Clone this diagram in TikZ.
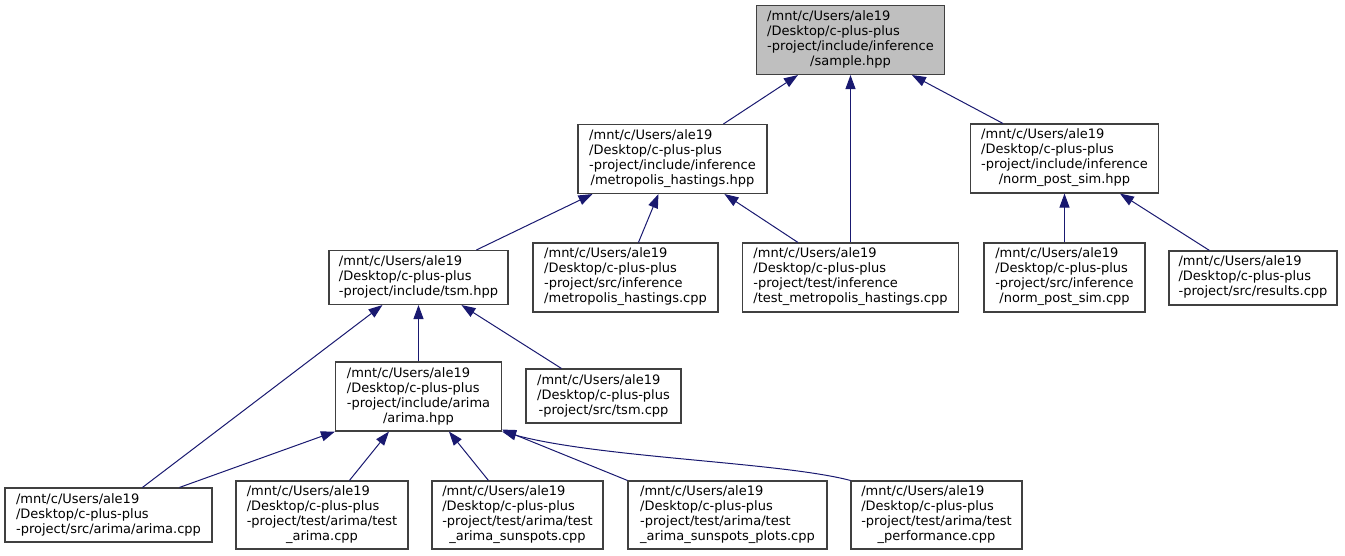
\documentclass[tikz,border=0pt]{standalone}
\usepackage{fontspec}
\setmainfont{DejaVu Sans}
\usetikzlibrary{arrows.meta}
\definecolor{edgeblue}{RGB}{25,25,112}
\definecolor{boxline}{RGB}{64,64,64}
\definecolor{rootfill}{RGB}{191,191,191}
\newcommand{\fourl}[4]{\begin{tabular}{@{}l@{}}#1\\#2\\#3\\\multicolumn{1}{@{}c@{}}{#4}\end{tabular}}
\newcommand{\threel}[3]{\begin{tabular}{@{}l@{}}#1\\#2\\\multicolumn{1}{@{}c@{}}{#3}\end{tabular}}
\newcommand{\uA}{/mnt/c/Users/ale19}
\newcommand{\uB}{/Desktop/c-plus-plus}
\tikzset{
  box/.style={draw=boxline, line width=1.1pt, fill=white, rectangle, inner sep=0pt,
    font=\fontsize{13}{15}\selectfont},
  rootbox/.style={box, fill=rootfill},
  edge/.style={draw=edgeblue, line width=1pt, {Triangle[length=14pt,width=10pt]}-}
}
\begin{document}
\begin{tikzpicture}[x=1pt,y=-1pt]
\useasboundingbox (0,0) rectangle (1345,556);
% nodes
\node[rootbox, minimum width=188pt, minimum height=69pt] (sample) at (850.5,40)
  {\fourl{\uA}{\uB}{-project/include/inference}{/sample.hpp}};
\node[box, minimum width=189pt, minimum height=69pt] (mhhpp) at (672.5,159)
  {\fourl{\uA}{\uB}{-project/include/inference}{/metropolis\_hastings.hpp}};
\node[box, minimum width=188pt, minimum height=69pt] (npshpp) at (1064.5,158.5)
  {\fourl{\uA}{\uB}{-project/include/inference}{/norm\_post\_sim.hpp}};
\node[box, minimum width=179pt, minimum height=54pt] (tsm) at (418.5,277.5)
  {\threel{\uA}{\uB}{-project/include/tsm.hpp}};
\node[box, minimum width=185pt, minimum height=69pt] (mhcpp) at (625.5,277.5)
  {\fourl{\uA}{\uB}{-project/src/inference}{/metropolis\_hastings.cpp}};
\node[box, minimum width=216pt, minimum height=69pt] (testmh) at (850.5,277.5)
  {\fourl{\uA}{\uB}{-project/test/inference}{/test\_metropolis\_hastings.cpp}};
\node[box, minimum width=161pt, minimum height=69pt] (npscpp) at (1064.5,277.5)
  {\fourl{\uA}{\uB}{-project/src/inference}{/norm\_post\_sim.cpp}};
\node[box, minimum width=168pt, minimum height=54pt] (results) at (1253,278)
  {\threel{\uA}{\uB}{-project/src/results.cpp}};
\node[box, minimum width=166pt, minimum height=69pt] (arimahpp) at (418.5,396.5)
  {\fourl{\uA}{\uB}{-project/include/arima}{/arima.hpp}};
\node[box, minimum width=155pt, minimum height=54pt] (tsmcpp) at (603.5,396)
  {\threel{\uA}{\uB}{-project/src/tsm.cpp}};
\node[box, minimum width=207pt, minimum height=54pt] (arimacpp) at (108.5,515)
  {\threel{\uA}{\uB}{-project/src/arima/arima.cpp}};
\node[box, minimum width=172pt, minimum height=68pt] (testarima) at (322,515)
  {\fourl{\uA}{\uB}{-project/test/arima/test}{\_arima.cpp}};
\node[box, minimum width=171pt, minimum height=68pt] (tas) at (517.5,515)
  {\fourl{\uA}{\uB}{-project/test/arima/test}{\_arima\_sunspots.cpp}};
\node[box, minimum width=199pt, minimum height=68pt] (plots) at (727.5,515)
  {\fourl{\uA}{\uB}{-project/test/arima/test}{\_arima\_sunspots\_plots.cpp}};
\node[box, minimum width=171pt, minimum height=68pt] (perf) at (936.5,515)
  {\fourl{\uA}{\uB}{-project/test/arima/test}{\_performance.cpp}};
% edges (arrowhead at the included file)
\draw[edge] ([xshift=42pt]sample.south west) -- ([xshift=146pt]mhhpp.north west);
\draw[edge] (sample.south) -- (testmh.north);
\draw[edge] ([xshift=156pt]sample.south west) -- ([xshift=33pt]npshpp.north west);
\draw[edge] ([xshift=15pt]mhhpp.south west) -- ([xshift=148pt]tsm.north west);
\draw[edge] ([xshift=81pt]mhhpp.south west) -- ([xshift=106pt]mhcpp.north west);
\draw[edge] ([xshift=147pt]mhhpp.south west) -- ([xshift=56pt]testmh.north west);
\draw[edge] (npshpp.south) -- (npshpp.south |- npscpp.north);
\draw[edge] ([xshift=150pt]npshpp.south west) -- ([xshift=41pt]results.north west);
\draw[edge] ([xshift=54pt]tsm.south west) -- ([xshift=138pt]arimacpp.north west);
\draw[edge] (tsm.south) -- (tsm.south |- arimahpp.north);
\draw[edge] ([xshift=133pt]tsm.south west) -- ([xshift=36pt]tsmcpp.north west);
\draw[edge] (arimahpp.south west) -- ([xshift=175pt]arimacpp.north west);
\draw[edge] ([xshift=54pt]arimahpp.south west) -- ([xshift=114pt]testarima.north west);
\draw[edge] ([xshift=114pt]arimahpp.south west) -- ([xshift=57pt]tas.north west);
\draw[edge] ([yshift=2pt]arimahpp.south east) -- (plots.north west);
\draw[edge] (arimahpp.south east) .. controls (600,458) and (780,462) .. (perf.north west);
\end{tikzpicture}
\end{document}
